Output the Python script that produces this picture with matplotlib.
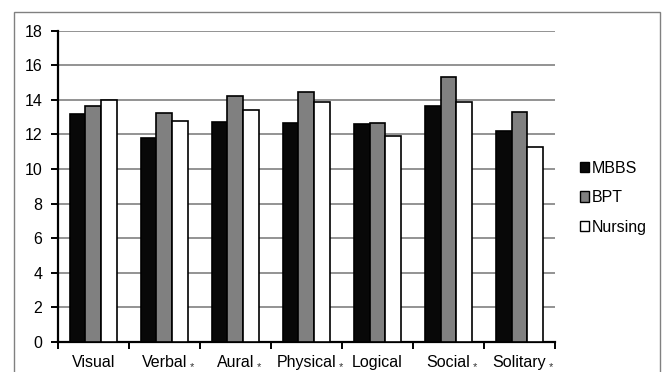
import matplotlib
matplotlib.use("Agg")
import matplotlib.pyplot as plt
import numpy as np
from matplotlib.patches import Rectangle, Patch

plt.rcParams['font.family'] = ['Liberation Sans', 'DejaVu Sans']

categories = ["Visual", "Verbal", "Aural", "Physical", "Logical", "Social", "Solitary"]
starred = [False, True, True, True, False, True, True]
series_names = ["MBBS", "BPT", "Nursing"]
mbbs = [13.2, 11.8, 12.7, 12.65, 12.6, 13.65, 12.2]
bpt = [13.65, 13.25, 14.25, 14.45, 12.65, 15.3, 13.3]
nursing = [14.0, 12.8, 13.4, 13.9, 11.9, 13.85, 11.3]
y_ticks = [0, 2, 4, 6, 8, 10, 12, 14, 16, 18]

colors = ["#080808", "#808080", "#ffffff"]
fs = 11.5

fig = plt.figure(figsize=(6.65, 3.72), dpi=100)
ax = fig.add_axes([0.0868, 0.0806, 0.7478, 0.8369])

x = np.arange(len(categories))
width = 1 / 4.5
for i, (vals, c, name) in enumerate(zip([mbbs, bpt, nursing], colors, series_names)):
    ax.bar(x + (i - 1) * width, vals, width, color=c, edgecolor="black",
           linewidth=1.2, label=name, zorder=3)

ax.set_xlim(-0.5, len(categories) - 0.5)
ax.set_ylim(0, 18)
ax.set_yticks(y_ticks)
ax.yaxis.grid(True, color="#808080", linewidth=1.2, zorder=0)
ax.set_axisbelow(True)
for s in ["top", "right"]:
    ax.spines[s].set_visible(False)
for s in ["left", "bottom"]:
    ax.spines[s].set_linewidth(1.6)
    ax.spines[s].set_color("black")

ax.tick_params(axis="y", direction="out", length=5, width=1.4, labelsize=fs, pad=6)
ax.set_xticks(np.arange(len(categories) + 1) - 0.5)
ax.set_xticklabels([])
ax.tick_params(axis="x", direction="out", length=5, width=1.4)

labels = []
for xi, cat in enumerate(categories):
    t = ax.annotate(cat, xy=(xi, 0), xycoords=("data", "axes fraction"),
                    xytext=(0, -14.5), textcoords="offset points",
                    ha="center", va="center", fontsize=fs)
    labels.append(t)

fig.canvas.draw()
renderer = fig.canvas.get_renderer()
for t, st in zip(labels, starred):
    if st:
        bb = t.get_window_extent(renderer)
        fx = (bb.x1 + 4.5) / fig.bbox.width
        fy = (bb.y0 + 2.5) / fig.bbox.height
        fig.text(fx, fy, "*", ha="center", va="center", fontsize=8, color="#333333")

handles = [Patch(facecolor=c, edgecolor="black", linewidth=1.0) for c in colors]
fig.legend(handles, series_names, loc="upper left", bbox_to_anchor=(0.862, 0.585),
           frameon=False, fontsize=fs, handlelength=0.6, handleheight=0.6,
           handletextpad=0.15, labelspacing=0.9, borderaxespad=0)

fig.patches.append(Rectangle((14 / 665, -0.05), (660 - 14) / 665, 1 - 12 / 372 + 0.05,
                             transform=fig.transFigure, fill=False,
                             edgecolor="#808080", linewidth=1.0))

fig.savefig("out.png", dpi=100)
